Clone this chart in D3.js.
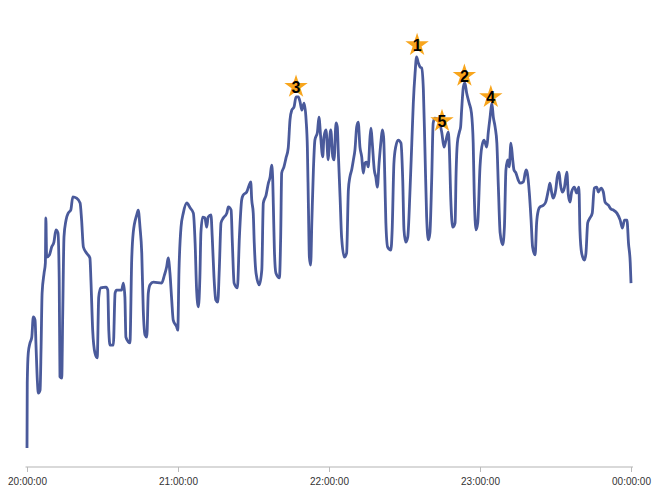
<!DOCTYPE html>
<html>
<head>
<meta charset="utf-8">
<script src="https://cdn.jsdelivr.net/npm/d3@7"></script>
<style>
  body { margin: 0; background: #fff; }
  svg { display: block; font-family: "Liberation Sans", Arial, sans-serif; }
</style>
</head>
<body>
<script>
// minutes after 20:00
var minutes = [
  0, 0.1, 0.5, 1.2, 1.9, 2.5, 3.2, 3.6, 4.1, 4.5, 5.2, 5.6, 6.0, 6.8, 7.3, 7.5, 7.8, 8.9, 9.8, 10.7,
  11.5, 12.3, 12.8, 13.1, 13.8, 14.2, 14.7, 15.5, 16.4, 17.4, 18.2, 19.7, 21.1, 21.7, 22.4, 23.7, 25.0, 25.4, 26.1, 27.0,
  27.9, 28.5, 29.3, 31.4, 32.1, 32.5, 33.0, 34.3, 35.0, 35.6, 37.6, 38.3, 38.9, 39.3, 40.3, 40.9, 41.6, 42.2, 43.6, 44.2,
  44.9, 45.6, 46.2, 46.9, 47.6, 48.2, 48.9, 50.2, 53.5, 54.6, 55.5, 56.1, 56.8, 57.5, 58.1, 59.5, 59.9, 60.4, 61.2, 62.1,
  63.5, 64.8, 66.1, 66.8, 67.4, 68.1, 68.7, 69.1, 69.8, 70.7, 71.4, 72.0, 73.1, 73.6, 74.3, 75.0, 75.8, 76.4, 77.1, 78.0,
  79.4, 80.0, 81.1, 81.6, 82.3, 83.6, 84.4, 85.3, 85.9, 87.3, 88.3, 88.9, 89.3, 89.9, 90.3, 91.0, 92.3, 93.3, 93.9, 95.0,
  95.9, 96.6, 97.2, 97.6, 97.9, 98.3, 98.9, 100.3, 100.8, 101.2, 102.1, 102.9, 103.8, 104.5, 105.2, 106.1, 106.9, 107.8, 108.5, 109.2,
  110.1, 110.9, 111.4, 111.8, 112.2, 112.7, 113.2, 113.8, 114.4, 115.4, 116.0, 116.7, 117.5, 118.0, 118.8, 119.7, 120.1, 120.7, 121.5, 122.0,
  122.8, 123.3, 123.7, 124.4, 125.0, 126.1, 127.0, 127.7, 128.3, 129.0, 129.7, 130.3, 131.0, 131.6, 132.3, 133.0, 133.6, 134.3, 135.0, 135.6,
  136.3, 136.7, 137.2, 138.0, 138.6, 139.2, 139.9, 140.7, 141.2, 141.7, 142.2, 142.6, 143.3, 144.6, 145.1, 145.8, 146.5, 147.5, 148.6, 149.3,
  149.8, 150.5, 151.3, 152.2, 152.9, 153.5, 154.2, 154.8, 155.5, 156.2, 156.8, 157.5, 158.1, 158.8, 159.5, 160.1, 160.8, 161.4, 162.1, 163.4,
  164.8, 165.7, 166.5, 167.4, 167.8, 168.4, 169.2, 170.1, 170.5, 171.0, 171.8, 172.3, 172.7, 173.4, 174.0, 174.7, 175.7, 176.6, 177.3, 177.7,
  178.4, 179.1, 180.0, 180.7, 181.6, 182.7, 183.3, 184.0, 184.7, 185.3, 186.0, 186.7, 187.3, 188.0, 189.0, 189.7, 190.3, 191.0, 191.6, 192.3,
  193.0, 193.5, 194.3, 195.2, 195.9, 197.2, 198.3, 198.8, 199.6, 200.3, 200.9, 201.9, 202.5, 203.2, 203.8, 205.2, 206.1, 207.2, 207.8, 208.5,
  209.1, 210.1, 210.7, 211.4, 211.9, 212.7, 213.5, 214.5, 215.1, 215.8, 216.4, 217.5, 218.4, 219.3, 219.7, 220.4, 221.5, 222.1, 222.8, 223.7,
  224.6, 225.4, 226.4, 227.0, 228.1, 229.0, 229.7, 231.0, 232.1, 233.0, 234.4, 235.7, 236.6, 237.4, 238.4, 239.0, 239.7, 240.0
];

var values = [
  4.3, 19.1, 25.9, 28.2, 29.5, 34.1, 33.4, 27.3, 19.8, 16.8, 17.5, 27.3, 39.5, 44.1, 46.4, 56.6, 47.7, 48.2, 50.0, 51.1,
  53.9, 53.2, 42.5, 20.5, 20.2, 35.0, 52.3, 56.1, 57.7, 58.4, 61.4, 61.1, 60.0, 56.1, 50.0, 48.6, 47.5, 42.5, 31.1, 25.9,
  24.8, 38.6, 40.7, 40.9, 40.2, 31.1, 27.7, 27.7, 39.5, 40.2, 40.2, 41.8, 38.6, 29.5, 28.4, 28.2, 47.0, 53.2, 57.3, 58.4,
  54.5, 48.6, 35.7, 30.0, 29.5, 39.5, 41.4, 42.0, 41.8, 43.6, 45.5, 47.5, 44.1, 38.0, 33.4, 31.8, 31.1, 44.8, 54.5, 57.7,
  60.0, 58.9, 57.7, 50.9, 40.2, 36.4, 43.2, 53.2, 56.8, 56.6, 54.5, 56.8, 57.3, 52.3, 43.2, 38.0, 37.5, 44.8, 55.5, 56.6,
  57.7, 59.1, 58.4, 50.9, 41.8, 40.7, 52.3, 60.7, 61.8, 62.5, 64.1, 64.8, 60.7, 57.7, 50.9, 44.1, 41.4, 44.8, 60.0, 61.8,
  64.5, 65.9, 68.6, 65.9, 59.1, 49.3, 44.1, 43.0, 52.3, 66.8, 68.2, 70.2, 72.5, 78.9, 81.1, 81.8, 84.1, 84.1, 83.0, 81.1,
  82.7, 78.9, 72.7, 60.0, 47.7, 45.9, 56.1, 67.5, 74.3, 76.1, 79.5, 75.0, 70.5, 75.0, 76.6, 69.8, 73.2, 76.6, 70.5, 69.8,
  78.2, 77.3, 71.4, 61.4, 52.3, 47.7, 48.6, 63.0, 65.9, 67.5, 69.8, 72.0, 77.3, 78.4, 72.7, 70.5, 66.8, 69.1, 69.3, 68.2,
  75.0, 77.0, 73.6, 67.5, 65.9, 63.6, 69.1, 74.3, 76.6, 75.0, 65.2, 55.5, 50.0, 49.3, 53.9, 69.1, 72.7, 74.3, 73.6, 65.2,
  53.9, 51.1, 52.3, 63.0, 73.6, 82.7, 89.5, 93.2, 91.8, 90.9, 90.7, 85.7, 72.7, 56.8, 51.6, 53.2, 65.2, 78.2, 79.3, 78.9,
  76.1, 72.7, 74.3, 76.1, 72.7, 60.7, 54.5, 55.5, 66.8, 73.6, 76.1, 77.3, 81.1, 86.4, 87.3, 85.0, 82.7, 80.5, 73.6, 62.3,
  53.9, 55.5, 68.2, 72.7, 74.3, 72.7, 76.1, 79.5, 82.7, 79.5, 77.3, 73.6, 63.6, 53.2, 50.5, 54.5, 67.5, 69.8, 68.2, 73.6,
  69.8, 67.5, 66.8, 65.2, 64.5, 64.8, 67.5, 66.8, 62.3, 56.1, 50.0, 48.2, 55.5, 58.4, 59.1, 59.5, 60.2, 63.0, 64.5, 62.3,
  61.1, 63.0, 65.9, 67.0, 64.5, 62.5, 63.4, 67.0, 61.8, 60.2, 62.5, 63.6, 62.3, 63.6, 53.9, 48.6, 47.0, 48.6, 55.5, 56.6,
  57.7, 63.4, 63.6, 62.5, 63.4, 62.5, 60.2, 59.5, 58.6, 58.4, 57.7, 56.1, 54.3, 56.1, 56.1, 50.9, 46.4, 41.8
];

// top five peaks
var peakRank = [1, 2, 3, 4, 5];
var peakMinutes = [155.0, 173.8, 106.9, 184.3, 164.9];
var peakValues = [95.9, 88.9, 86.4, 84.1, 78.6];

var tickLabels = ["20:00:00", "21:00:00", "22:00:00", "23:00:00", "00:00:00"];

var width = 656, height = 492;
var margin = {left: 27, right: 25, bottom: 25, top: 27};

var start = new Date(2020, 0, 1, 20, 0, 0);
function toTime(m) { return new Date(start.getTime() + m * 60000); }

var data = minutes.map(function(m, i) { return {t: toTime(m), v: values[i]}; });
var peaks = peakRank.map(function(r, i) {
  return {rank: r, t: toTime(peakMinutes[i]), v: peakValues[i]};
});

var svg = d3.select("body").append("svg")
    .attr("width", width)
    .attr("height", height);

var x = d3.scaleTime()
    .domain([start, toTime(240)])
    .range([margin.left, width - margin.right]);

var y = d3.scaleLinear()
    .domain([0, 100])
    .range([height - margin.bottom, margin.top]);

// x axis
var axis = svg.append("g")
    .attr("transform", "translate(0," + (height - margin.bottom) + ")")
    .call(d3.axisBottom(x)
        .ticks(d3.timeHour.every(1))
        .tickSizeOuter(0)
        .tickSize(5)
        .tickPadding(6)
        .tickFormat(function(d, i) { return tickLabels[i]; }));

axis.select(".domain")
    .attr("stroke", "#cccccc")
    .attr("stroke-width", 1.5)
    .attr("d", "M" + (margin.left - 1.5) + ",0H" + (width - margin.right + 2));
axis.selectAll(".tick line").attr("stroke", "#bbbbbb");
axis.selectAll(".tick text")
    .attr("fill", "#333")
    .style("font-size", "10px");

// the series
var line = d3.line()
    .x(function(d) { return x(d.t); })
    .y(function(d) { return y(d.v); })
    .curve(d3.curveMonotoneX);

svg.append("path")
    .datum(data)
    .attr("fill", "none")
    .attr("stroke", "#4a5a9b")
    .attr("stroke-width", 2.8)
    .attr("stroke-linejoin", "round")
    .attr("d", line);

// peak markers
var star = d3.symbol().type(d3.symbolStar).size(170);

var marks = svg.selectAll(".peak")
    .data(peaks)
    .enter().append("g")
    .attr("class", "peak")
    .attr("transform", function(d) { return "translate(" + x(d.t) + "," + y(d.v) + ")"; });

marks.append("path")
    .attr("d", star)
    .attr("fill", "#f8a51c");

marks.append("text")
    .attr("text-anchor", "middle")
    .attr("dy", "0.36em")
    .style("font-size", "16px")
    .style("font-weight", "bold")
    .attr("fill", "#000")
    .text(function(d) { return d.rank; });
</script>
</body>
</html>
